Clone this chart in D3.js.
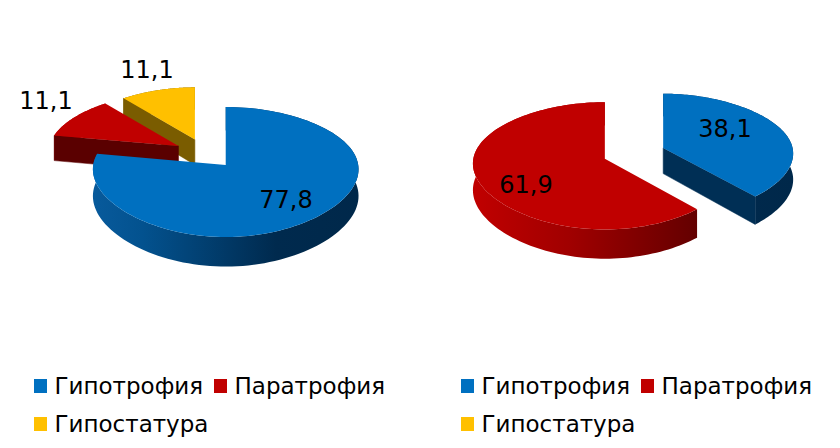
<!DOCTYPE html>
<html>
<head>
<meta charset="utf-8">
<script src="https://cdnjs.cloudflare.com/ajax/libs/d3/7.8.5/d3.min.js"></script>
<style>
  body { margin: 0; background: #fff; }
  text { font-family: "DejaVu Sans", sans-serif; fill: #000; }
</style>
</head>
<body>
<div id="chart"></div>
<script>
// Data
const categories = ["Гипотрофия", "Паратрофия", "Гипостатура"];
const leftValues = [77.8, 11.1, 11.1];
const rightValues = [38.1, 61.9, 0];
const leftLabels = ["77,8", "11,1", "11,1"];
const rightLabels = ["38,1", "61,9", ""];

// Colors: top face, then the shaded rim, then the cut face
const topColors = ["#0070c0", "#c00000", "#ffc000"];
const rimColors = [
  ["#0c62a8", "#03528f", "#002a4e", "#00284a"],
  ["#c00000", "#a00000", "#600000", "#5a0000"],
  ["#7f6000", "#7f6000", "#7f6000", "#7f6000"],
];
const cutColors = ["#002f55", "#5a0000", "#7a5c00"];

const WIDTH = 840;
const HEIGHT = 448;

// 3D look of the pies
const RX = 130.5;
const RY = 62.4;
const SAG = 7; // front of the pie is drawn bigger than the back
const WIDEN = 0.094;
const WIDEN_CURVE = -0.056;
const EXPLODE = 0.24;

const svg = d3
  .select("#chart")
  .append("svg")
  .attr("width", WIDTH)
  .attr("height", HEIGHT);
const defs = svg.append("defs");

const pie = d3
  .pie()
  .sort(null)
  .value((d) => d)
  .startAngle(0)
  .endAngle(2 * Math.PI);

const polygon = d3
  .line()
  .x((d) => d[0])
  .y((d) => d[1]);

function drawPie(values, labels, labelSpots, cx, cy, idx) {
  // ox, oy: slice explode offset, s, c: position on the circle
  const project = (ox, oy, s, c, drop) => {
    const v = oy + c;
    const depth = drop ? 26 + 3 * v : 0;
    const widen = 1 + WIDEN * v + WIDEN_CURVE * v * v;
    return [
      cx + RX * (ox + s * widen),
      cy + RY * v + SAG * v * v + depth,
    ];
  };

  // Rim gradients, one per color for this pie
  rimColors.forEach((stops, i) => {
    const grad = defs
      .append("linearGradient")
      .attr("id", "rim" + idx + "-" + i)
      .attr("gradientUnits", "userSpaceOnUse")
      .attr("x1", cx - 160)
      .attr("x2", cx + 160)
      .attr("y1", 0)
      .attr("y2", 0);
    [0, 0.3, 0.72, 1].forEach((o, j) => {
      grad.append("stop").attr("offset", o).attr("stop-color", stops[j]);
    });
  });

  const slices = pie(values)
    .map((d) => {
      const mid = (d.startAngle + d.endAngle) / 2;
      return {
        ...d,
        i: d.index,
        ox: EXPLODE * Math.sin(mid),
        oy: -EXPLODE * Math.cos(mid),
      };
    })
    .filter((d) => d.value > 0)
    .sort((a, b) => a.oy - b.oy); // back to front

  const g = svg.append("g");

  slices.forEach((d) => {
    const steps = d3.range(0, 121).map(
      (k) => d.startAngle + ((d.endAngle - d.startAngle) * k) / 120
    );
    const edge = steps.map((a) => project(d.ox, d.oy, Math.sin(a), -Math.cos(a), false));
    const edgeLow = steps.map((a) => project(d.ox, d.oy, Math.sin(a), -Math.cos(a), true));
    const apex = project(d.ox, d.oy, 0, 0, false);
    const apexLow = project(d.ox, d.oy, 0, 0, true);
    const midPt = edge[60];

    // Rim
    g.append("path")
      .attr("d", polygon(edge.concat(edgeLow.slice().reverse())) + "Z")
      .attr("fill", "url(#rim" + idx + "-" + d.i + ")");

    // Cut faces, only the ones turned to the viewer
    [0, 120].forEach((k) => {
      const p = edge[k];
      const lineY = apex[1] + ((midPt[0] - apex[0]) * (p[1] - apex[1])) / (p[0] - apex[0]);
      if (Math.abs(p[0] - apex[0]) < 0.5 || midPt[1] > lineY) return;
      g.append("path")
        .attr("d", polygon([apex, p, edgeLow[k], apexLow]) + "Z")
        .attr("fill", cutColors[d.i])
        .attr("stroke", cutColors[d.i])
        .attr("stroke-width", 0.5);
    });

    // Top face
    g.append("path")
      .attr("d", polygon([apex].concat(edge)) + "Z")
      .attr("fill", topColors[d.i]);
  });

  labels.forEach((t, i) => {
    if (!t) return;
    svg
      .append("text")
      .attr("x", labelSpots[i][0])
      .attr("y", labelSpots[i][1])
      .attr("text-anchor", "middle")
      .style("font-size", "24px")
      .text(t);
  });
}

drawPie(leftValues, leftLabels, [[286, 208], [46, 109], [147, 78]], 205.6, 153.3, 0);
drawPie(rightValues, rightLabels, [[725, 137], [526, 193]], 634, 153.3, 1);

// Legends
function drawLegend(x0) {
  const spots = [
    [x0 + 34, 394],
    [x0 + 214, 394],
    [x0 + 34, 432],
  ];
  categories.forEach((c, i) => {
    svg
      .append("rect")
      .attr("x", spots[i][0])
      .attr("y", spots[i][1] - 15)
      .attr("width", 13)
      .attr("height", 14)
      .attr("fill", topColors[i]);
    svg
      .append("text")
      .attr("x", spots[i][0] + 20.5)
      .attr("y", spots[i][1])
      .style("font-size", "23px")
      .text(c);
  });
}
drawLegend(0);
drawLegend(427);
</script>
</body>
</html>
